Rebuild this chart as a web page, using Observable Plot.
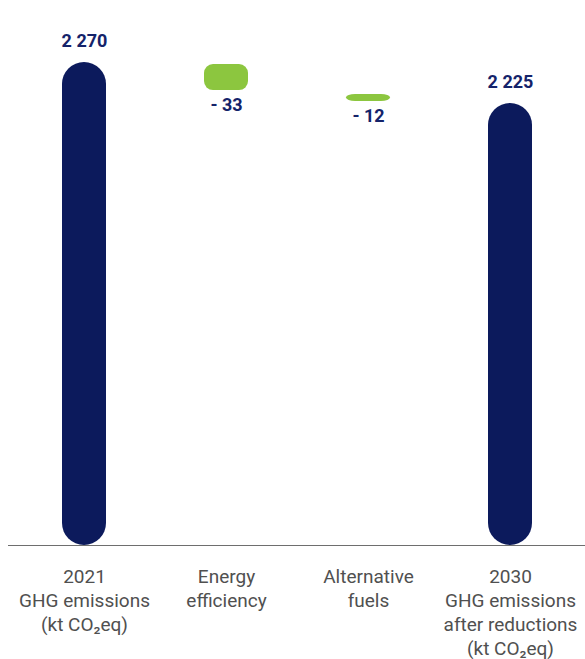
<!DOCTYPE html>
<html>
<head>
<meta charset="utf-8">
<script src="https://cdn.jsdelivr.net/npm/d3@7"></script>
<script src="https://cdn.jsdelivr.net/npm/@observablehq/plot@0.6"></script>
<style>
  html, body { margin: 0; padding: 0; background: #ffffff; }
  #chart { width: 585px; height: 659px; }
</style>
</head>
<body>
<div id="chart"></div>
<script>
// Waterfall of GHG emissions, 2021 to 2030 (kt CO2eq)
const categories = [
  "2021\nGHG emissions\n(kt CO₂eq)",
  "Energy\nefficiency",
  "Alternative\nfuels",
  "2030\nGHG emissions\nafter reductions\n(kt CO₂eq)"
];
const values = [2270, -33, -12, 2225];
const kinds = ["total", "delta", "delta", "total"];

const navy = "#0c1a5c";
const green = "#8cc63f";
const yFloor = 1740; // bottom of the value axis

// Build the waterfall segments from the values
let running = 0;
const rows = categories.map((c, i) => {
  const v = values[i];
  let y1, y2;
  if (kinds[i] === "total") {
    y1 = yFloor; y2 = v; running = v;
  } else {
    y1 = running; y2 = running + v; running = running + v;
  }
  return {category: c, value: v, kind: kinds[i], y1, y2,
          top: Math.max(y1, y2), bottom: Math.min(y1, y2)};
});

const fmt = (v) => v < 0 ? "- " + Math.abs(v) : d3.format(",")(v).replace(/,/g, " ");
const totals = rows.filter(d => d.kind === "total");
const deltas = rows.filter(d => d.kind === "delta");

const chart = Plot.plot({
  width: 585,
  height: 659,
  marginTop: 0,
  marginLeft: 8,
  marginRight: 0,
  marginBottom: 114,
  style: {fontFamily: "Roboto, 'DejaVu Sans', sans-serif", background: "#ffffff"},
  x: {domain: categories, paddingInner: 0.692, paddingOuter: 0.364, label: null},
  y: {domain: [yFloor, 2270], range: [545, 62], axis: null},
  marks: [
    Plot.barY(totals, {x: "category", y1: "y1", y2: "y2", fill: navy, rx: 22}),
    Plot.barY(deltas, {x: "category", y1: "y1", y2: "y2", fill: green, rx: 9, insetTop: 2, insetBottom: 2}),
    Plot.ruleY([yFloor], {stroke: "#6e6e6e", strokeWidth: 1}),
    Plot.text(totals, {x: "category", y: "top", text: d => fmt(d.value), dy: -21,
      fill: "#14236a", fontSize: 18, fontWeight: "bold"}),
    Plot.text(deltas, {x: "category", y: "bottom", text: d => fmt(d.value), dy: 13,
      fill: "#14236a", fontSize: 18, fontWeight: "bold"}),
    Plot.axisX({tickSize: 0, tickPadding: 20, fontSize: 19, lineHeight: 24 / 19,
      fill: "#505050", label: null, lineAnchor: "top"})
  ]
});
document.getElementById("chart").appendChild(chart);
</script>
</body>
</html>
